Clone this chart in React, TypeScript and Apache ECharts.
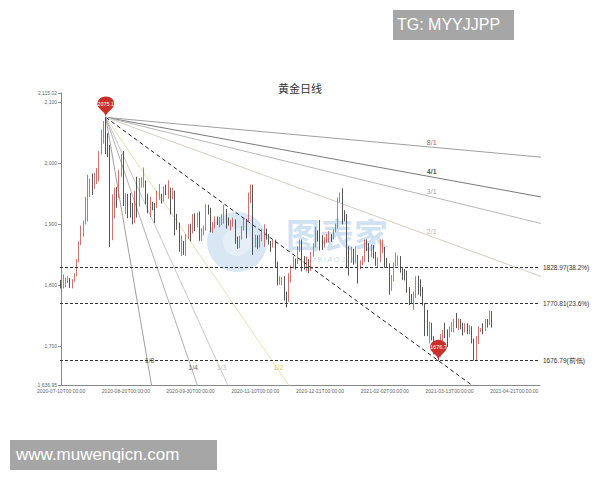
import React, { useEffect, useRef } from 'react';
import * as echarts from 'echarts';

// ---------- data ----------
const chartTitle = '黄金日线';
const tickLabels = [
  '2020-07-10T00:00:00', '2020-08-20T00:00:00', '2020-09-30T00:00:00', '2020-11-10T00:00:00',
  '2020-12-21T00:00:00', '2021-02-02T00:00:00', '2021-03-13T00:00:00', '2021-04-21T00:00:00',
];
const LABEL_STEP = 29; // trading days between two axis labels
const CATEGORY_COUNT = 215; // trading days on the axis (data + future)

// daily candles: [open, high, low, close]
const julCandles = [
  [1803, 1809, 1795, 1798], [1798, 1818, 1795, 1802], [1802, 1813, 1797, 1809], [1809, 1815, 1804, 1810],
  [1810, 1812, 1796, 1796], [1796, 1810, 1795, 1810], [1810, 1820, 1806, 1817], [1817, 1843, 1815, 1842],
  [1842, 1872, 1838, 1871], [1871, 1898, 1866, 1888], [1888, 1906, 1880, 1902], [1902, 1945, 1900, 1940],
  [1940, 1981, 1905, 1958], [1958, 1975, 1945, 1970], [1970, 1983, 1948, 1958], [1958, 1984, 1958, 1975],
];
const augCandles = [
  [1975, 1992, 1966, 1976], [1976, 2020, 1970, 2019], [2019, 2055, 2014, 2039], [2039, 2069, 2032, 2063],
  [2063, 2075.16, 2015, 2035], [2035, 2049, 2010, 2028], [2028, 2030, 1863, 1911], [1911, 1949, 1874, 1914],
  [1914, 1960, 1910, 1954], [1954, 1961, 1927, 1944], [1944, 1989, 1943, 1985], [1985, 2015, 1978, 2003],
  [2003, 2020, 1930, 1930], [1930, 1951, 1917, 1947], [1947, 1950, 1910, 1940], [1940, 1951, 1911, 1928],
  [1928, 1935, 1900, 1907], [1907, 1955, 1902, 1954], [1954, 1978, 1911, 1929], [1929, 1976, 1929, 1964],
  [1964, 1977, 1960, 1967],
];
const sepCandles = [
  [1967, 1993, 1960, 1970], [1970, 1972, 1933, 1944], [1944, 1950, 1918, 1930], [1930, 1945, 1912, 1933],
  [1933, 1937, 1923, 1932], [1932, 1935, 1902, 1930], [1930, 1955, 1927, 1946], [1946, 1966, 1940, 1946],
  [1946, 1950, 1934, 1940], [1940, 1962, 1937, 1955], [1955, 1965, 1948, 1954], [1954, 1972, 1942, 1959],
  [1959, 1960, 1916, 1944], [1944, 1960, 1941, 1950], [1950, 1955, 1882, 1912], [1912, 1917, 1891, 1900],
  [1900, 1903, 1855, 1863], [1863, 1882, 1848, 1868], [1868, 1873, 1850, 1861], [1861, 1884, 1848, 1881],
  [1881, 1900, 1876, 1898], [1898, 1901, 1872, 1886],
];
const octCandles = [
  [1886, 1917, 1885, 1905], [1905, 1918, 1889, 1900], [1900, 1919, 1895, 1913], [1913, 1921, 1873, 1877],
  [1877, 1894, 1873, 1887], [1887, 1898, 1882, 1894], [1894, 1933, 1890, 1930], [1930, 1932, 1916, 1922],
  [1922, 1927, 1887, 1891], [1891, 1904, 1886, 1902], [1902, 1913, 1893, 1908], [1908, 1913, 1899, 1899],
  [1899, 1912, 1895, 1905], [1905, 1917, 1899, 1907], [1907, 1932, 1901, 1924], [1924, 1925, 1893, 1905],
  [1905, 1911, 1898, 1902], [1902, 1907, 1890, 1902], [1902, 1911, 1896, 1907], [1907, 1908, 1868, 1878],
  [1878, 1880, 1860, 1868], [1868, 1881, 1861, 1879],
];
const novCandles = [
  [1879, 1897, 1875, 1895], [1895, 1910, 1890, 1908], [1908, 1909, 1877, 1904], [1904, 1952, 1903, 1949],
  [1949, 1965, 1935, 1951], [1951, 1965, 1850, 1862], [1862, 1883, 1862, 1877], [1877, 1882, 1860, 1866],
  [1866, 1883, 1862, 1873], [1873, 1892, 1872, 1887], [1887, 1900, 1863, 1888], [1888, 1893, 1875, 1880],
  [1880, 1884, 1867, 1872], [1872, 1873, 1855, 1866], [1866, 1875, 1862, 1871], [1871, 1875, 1830, 1837],
  [1837, 1839, 1800, 1805], [1805, 1815, 1801, 1807], [1807, 1814, 1800, 1810], [1810, 1815, 1775, 1788],
  [1788, 1790, 1764, 1776],
];
const decCandles = [
  [1776, 1820, 1773, 1815], [1815, 1833, 1805, 1830], [1830, 1848, 1828, 1841], [1841, 1844, 1826, 1838],
  [1838, 1864, 1835, 1862], [1862, 1875, 1855, 1870], [1870, 1875, 1823, 1838], [1838, 1848, 1826, 1836],
  [1836, 1847, 1823, 1840], [1840, 1843, 1820, 1827], [1827, 1855, 1824, 1854], [1854, 1869, 1847, 1864],
  [1864, 1896, 1862, 1887], [1887, 1890, 1872, 1881], [1881, 1907, 1857, 1878], [1878, 1882, 1858, 1871],
  [1871, 1879, 1862, 1876], [1876, 1884, 1870, 1877], [1877, 1889, 1870, 1880], [1880, 1884, 1871, 1877],
  [1877, 1892, 1875, 1893], [1893, 1901, 1887, 1895],
];
const janCandles = [
  [1895, 1944, 1893, 1943], [1943, 1952, 1936, 1950], [1950, 1959, 1900, 1918], [1918, 1923, 1905, 1913],
  [1913, 1917, 1828, 1849], [1849, 1864, 1816, 1844], [1844, 1863, 1837, 1855], [1855, 1860, 1834, 1845],
  [1845, 1864, 1836, 1846], [1846, 1850, 1803, 1828], [1828, 1841, 1826, 1840], [1840, 1848, 1833, 1840],
  [1840, 1875, 1838, 1871], [1871, 1875, 1856, 1866], [1866, 1869, 1838, 1855], [1855, 1867, 1846, 1856],
  [1856, 1866, 1844, 1850], [1850, 1855, 1832, 1843], [1843, 1846, 1830, 1844], [1844, 1875, 1838, 1848],
];
const febCandles = [
  [1848, 1875, 1853, 1860], [1860, 1863, 1829, 1837], [1837, 1845, 1829, 1835], [1835, 1836, 1785, 1794],
  [1794, 1817, 1791, 1814], [1814, 1838, 1807, 1834], [1834, 1854, 1831, 1838], [1838, 1849, 1832, 1842],
  [1842, 1848, 1821, 1826], [1826, 1828, 1809, 1823], [1823, 1827, 1808, 1819], [1819, 1824, 1788, 1794],
  [1794, 1797, 1768, 1776], [1776, 1786, 1770, 1775], [1775, 1790, 1760, 1784], [1784, 1815, 1779, 1808],
  [1808, 1816, 1785, 1806], [1806, 1810, 1782, 1797], [1797, 1797, 1767, 1771], [1771, 1771, 1717, 1734],
];
const marCandles = [
  [1734, 1760, 1717, 1723], [1723, 1740, 1705, 1737], [1737, 1739, 1710, 1711], [1711, 1717, 1687, 1698],
  [1698, 1706, 1686, 1700], [1700, 1702, 1676.79, 1683], [1683, 1720, 1683, 1716], [1716, 1727, 1707, 1726],
  [1726, 1739, 1714, 1722], [1722, 1728, 1699, 1720], [1720, 1733, 1715, 1730], [1730, 1740, 1724, 1731],
  [1731, 1745, 1723, 1745], [1745, 1755, 1730, 1736], [1736, 1746, 1727, 1744], [1744, 1745, 1728, 1738],
  [1738, 1739, 1718, 1726], [1726, 1738, 1723, 1734], [1734, 1738, 1720, 1726], [1726, 1735, 1720, 1732],
  [1732, 1733, 1705, 1712], [1712, 1713, 1677, 1684], [1684, 1717, 1678, 1708],
];
const aprCandles = [
  [1708, 1733, 1704, 1728], [1728, 1730, 1724, 1729], [1729, 1738, 1720, 1728], [1728, 1745, 1725, 1743],
  [1743, 1745, 1731, 1737], [1737, 1759, 1735, 1755], [1755, 1758, 1731, 1744],
];

// Fibonacci retracement levels of the Aug high → Mar low swing
const fibLevels = [
  { value: 1828.97, tag: '38.2%' },
  { value: 1770.81, tag: '23.6%' },
  { value: 1676.79, tag: '前低' },
];

// Gann fan: name, time units, price units
const fanNames = ['8/1', '4/1', '3/1', '2/1', '1/1', '1/2', '1/3', '1/4', '1/8'];
const fanTime = [8, 4, 3, 2, 1, 1, 1, 1, 1];
const fanPrice = [1, 1, 1, 1, 1, 2, 3, 4, 8];
const fanLineColors = ['#a0a0a0', '#7a7a7a', '#b8b8b8', '#d8ccc0', '#222222', '#e8e2b0', '#c8c8c8', '#b0b0b0', '#a0a0a0'];
const fanLabelColors = ['#8b2c2c', '#222222', '#8a8a8a', '#a8988a', '', '#c9b820', '#b0b0b0', '#444444', '#333333'];
// where each label sits: on the right at a trading-day index, or at the bottom at a price
const fanLabelAtIndex = [166, 166, 166, 166, null, null, null, null, null];
const fanLabelAtPrice = [null, null, null, null, null, 1666.4, 1666.4, 1666.4, 1676.3];

const Y_MIN = 1636.95;
const Y_MAX = 2115.02;

export default function App() {
  const ref = useRef<HTMLDivElement>(null);

  useEffect(() => {
    if (!ref.current) return;
    const chart = echarts.init(ref.current, null, { renderer: 'svg' });

    const candles = [
      ...julCandles, ...augCandles, ...sepCandles, ...octCandles, ...novCandles,
      ...decCandles, ...janCandles, ...febCandles, ...marCandles, ...aprCandles,
    ];
    const kData = candles.map(([o, h, l, c]) => [o, c, l, h]);
    const categories = Array.from({ length: CATEGORY_COUNT }, (_, i) => String(i));

    // fan anchor: highest high → lowest low
    let hiIdx = 0;
    let loIdx = 0;
    candles.forEach((d, i) => {
      if (d[1] > candles[hiIdx][1]) hiIdx = i;
      if (d[2] < candles[loIdx][2]) loIdx = i;
    });
    const hi = candles[hiIdx][1];
    const lo = candles[loIdx][2];
    const unitSlope = (hi - lo) / (loIdx - hiIdx);

    const fanSeries: any[] = fanNames.map((name, k) => {
      const s = (unitSlope * fanPrice[k]) / fanTime[k];
      const far = 600;
      return {
        type: 'line',
        name,
        xAxisIndex: 1,
        yAxisIndex: 0,
        data: [[hiIdx, hi], [hiIdx + far, hi - s * far]],
        symbol: 'none',
        silent: true,
        clip: true,
        z: 3,
        lineStyle: {
          color: fanLineColors[k],
          width: 1,
          type: name === '1/1' ? [4, 3] : 'solid',
        },
      };
    });

    const labelPoints: any[] = [];
    fanNames.forEach((name, k) => {
      if (!fanLabelColors[k]) return;
      const s = (unitSlope * fanPrice[k]) / fanTime[k];
      let x: number;
      let y: number;
      let offset: number[];
      if (fanLabelAtIndex[k] != null) {
        x = fanLabelAtIndex[k] as number;
        y = hi - s * (x - hiIdx);
        offset = [0, -5];
      } else {
        y = fanLabelAtPrice[k] as number;
        x = hiIdx + (hi - y) / s;
        offset = [2, 0];
      }
      labelPoints.push({
        value: [x, y],
        label: {
          formatter: name,
          color: fanLabelColors[k],
          fontWeight: name === '4/1' ? 'bold' : 'normal',
          offset,
        },
      });
    });

    const option: any = {
      animation: false,
      backgroundColor: '#ffffff',
      title: {
        text: chartTitle,
        left: 'center',
        top: 82,
        padding: 0,
        textStyle: { fontSize: 11, fontWeight: 'normal', color: '#333', fontFamily: 'Noto Sans CJK SC' },
      },
      grid: { left: 60, right: 60, top: 93, bottom: 95 },
      xAxis: [
        {
          type: 'category',
          data: categories,
          boundaryGap: true,
          axisLine: { lineStyle: { color: '#888' } },
          axisTick: { interval: LABEL_STEP - 1, length: 3, lineStyle: { color: '#888' } },
          axisLabel: {
            interval: LABEL_STEP - 1,
            fontSize: 5,
            color: '#666',
            margin: 3,
            formatter: (_v: string, i: number) => tickLabels[Math.round(i / LABEL_STEP)] ?? '',
          },
          splitLine: { show: false },
        },
        {
          type: 'value',
          show: false,
          min: -0.5,
          max: CATEGORY_COUNT - 0.5,
        },
      ],
      yAxis: {
        type: 'value',
        min: Y_MIN,
        max: Y_MAX,
        scale: true,
        axisLine: { show: true, lineStyle: { color: '#888' } },
        axisTick: { show: true, length: 3, lineStyle: { color: '#888' } },
        axisLabel: { fontSize: 5, color: '#666', margin: 3 },
        splitLine: { show: false },
      },
      series: [
        {
          type: 'candlestick',
          data: kData,
          barMaxWidth: 2,
          z: 4,
          itemStyle: {
            color: '#e79a9a',
            color0: '#2b2b2b',
            borderColor: '#c0504d',
            borderColor0: '#2b2b2b',
            borderWidth: 0.8,
          },
          markPoint: {
            symbol: 'pin',
            symbolSize: [28, 24],
            itemStyle: { color: '#c9302c' },
            label: {
              fontSize: 5.5,
              color: '#fff',
              offset: [0, -1],
              formatter: (p: any) => (Math.floor(p.value * 10) / 10).toFixed(1),
            },
            data: [
              { type: 'max', valueDim: 'highest' },
              { type: 'min', valueDim: 'lowest' },
            ],
          },
          markLine: {
            symbol: ['none', 'none'],
            silent: true,
            lineStyle: { color: '#333', type: [3, 2], width: 1 },
            label: { position: 'end', fontSize: 6.5, color: '#333', distance: 3 },
            data: fibLevels.map((f) => ({
              yAxis: f.value,
              label: { formatter: `${f.value.toFixed(2)}(${f.tag})` },
            })),
          },
        },
        ...fanSeries,
        {
          type: 'scatter',
          xAxisIndex: 1,
          yAxisIndex: 0,
          symbolSize: 0,
          silent: true,
          z: 6,
          label: { show: true, position: 'inside', fontSize: 7 },
          data: labelPoints,
        },
      ],
      graphic: [
        {
          type: 'group',
          left: 207,
          top: 212,
          z: 100,
          silent: true,
          children: [
            { type: 'circle', shape: { cx: 33, cy: 32, r: 30 }, style: { fill: 'rgba(120,170,220,0.28)' } },
            { type: 'circle', shape: { cx: 33, cy: 32, r: 14 }, style: { fill: 'rgba(255,255,255,0.35)' } },
            {
              type: 'text',
              x: 82,
              y: 6,
              style: { text: '图表家', fontSize: 34, fontWeight: 'bold', fill: 'rgba(120,170,220,0.35)', fontFamily: 'Noto Sans CJK SC' },
            },
            {
              type: 'text',
              x: 100,
              y: 46,
              style: { text: 'T U B I A O J I A', fontSize: 7, fontStyle: 'italic', fill: 'rgba(120,170,220,0.45)' },
            },
          ],
        },
        {
          type: 'group',
          left: 393,
          top: 10,
          z: 100,
          children: [
            { type: 'rect', shape: { x: 0, y: 0, width: 121, height: 30 }, style: { fill: '#a6a6a6' } },
            { type: 'text', x: 4, y: 6, style: { text: 'TG: MYYJJPP', fontSize: 16, fill: '#ffffff', fontFamily: 'Liberation Sans' } },
          ],
        },
        {
          type: 'group',
          left: 10,
          top: 440,
          z: 100,
          children: [
            { type: 'rect', shape: { x: 0, y: 0, width: 207, height: 30 }, style: { fill: '#a6a6a6' } },
            { type: 'text', x: 6, y: 6, style: { text: 'www.muwenqicn.com', fontSize: 17, fill: '#ffffff', fontFamily: 'Liberation Sans' } },
          ],
        },
      ],
    };

    chart.setOption(option);
    return () => chart.dispose();
  }, []);

  return (
    <div
      ref={ref}
      style={{ position: 'fixed', left: 0, top: 0, width: 600, height: 480, background: '#fff' }}
    />
  );
}
